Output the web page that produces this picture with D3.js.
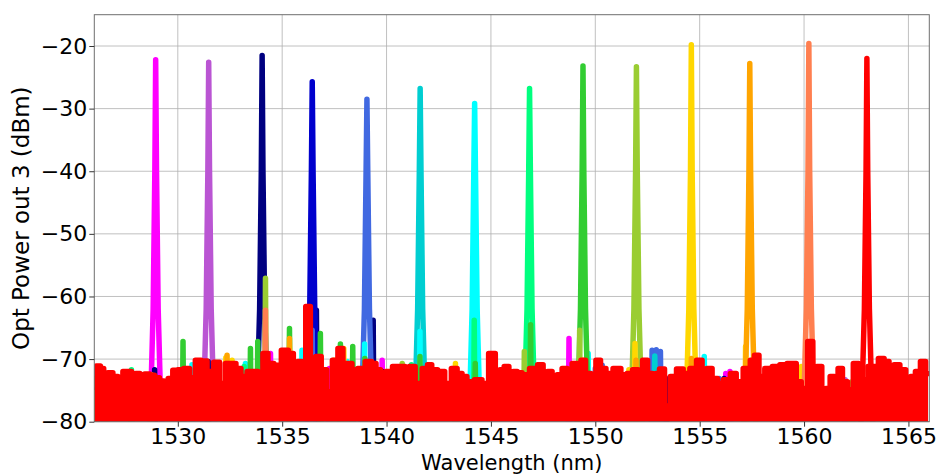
<!DOCTYPE html>
<html><head><meta charset="utf-8">
<script src="https://cdn.jsdelivr.net/npm/d3@7"></script>
<style>body{margin:0;background:#fff}svg{display:block}</style>
</head><body><svg id="c" width="939" height="474"></svg>
<script>
// ---- data ----
const channelNames = ["magenta","mediumorchid","navy","mediumblue","royalblue","darkturquoise","cyan","springgreen","limegreen","yellowgreen","gold","orange","coral","red"];
const channelColors = ["#ff00ff","#ba55d3","#000080","#0000cd","#4169e1","#00ced1","#00ffff","#00ff7f","#32cd32","#9acd32","#ffd700","#ffa500","#ff7f50","#ff0000"];
const channelWavelengths = [1528.94,1531.48,1534.04,1536.44,1539.06,1541.61,1544.22,1546.85,1549.41,1551.97,1554.60,1557.40,1560.23,1563.01];
const channelPeaks = [-22.2,-22.6,-21.5,-25.7,-28.5,-26.8,-29.2,-26.8,-23.2,-23.3,-19.8,-22.8,-19.6,-22.0];
// peak flank shape (offset in nm, level in dBm)
const flankOffsets = [-0.3,-0.25,-0.12,-0.04];
const flankLevels = [-81,-78,-62,-40];
// visible noise spikes / crosstalk of each output (λ nm, dBm)
const spurs = [
  [[1526.5,-72.5],[1534.44,-69.1],[1537.26,-71.5],[1539.79,-70.2],[1548.74,-66.7],[1556.25,-72.3],[1556.45,-72.0]],
  [[1561.97,-73.3]],
  [[1528.89,-71.7],[1531.45,-70.4],[1536.64,-62.2],[1539.36,-63.8],[1539.8,-72.0],[1553.38,-73.1],[1556.17,-73.1]],
  [],
  [[1536.44,-65.4],[1550.0,-71.5],[1550.33,-71.0],[1552.72,-68.6],[1552.92,-68.5],[1553.12,-68.8],[1555.93,-73.1]],
  [[1552.85,-69.5]],
  [[1530.68,-70.9],[1533.24,-70.7],[1535.95,-68.6],[1538.11,-70.4],[1538.95,-67.6],[1541.6,-65.6],[1549.66,-69.1],[1555.22,-69.6],[1555.54,-71.7]],
  [[1527.78,-71.7],[1533.18,-71.2],[1541.19,-70.9],[1544.2,-63.8]],
  [[1530.25,-67.2],[1533.48,-68.3],[1533.83,-67.2],[1535.35,-65.1],[1536.83,-65.9],[1537.79,-67.6],[1538.38,-68.0],[1538.96,-69.9],[1541.6,-69.6],[1544.25,-70.7],[1546.9,-64.5]],
  [[1534.2,-57.1],[1540.75,-70.7],[1546.6,-68.8],[1549.25,-65.4],[1562.3,-73.6]],
  [[1526.0,-73.1],[1526.53,-72.5],[1532.3,-69.8],[1532.6,-70.2],[1537.47,-70.2],[1537.95,-68.3],[1543.3,-70.7],[1546.9,-71.7],[1549.4,-70.2],[1551.61,-71.7],[1551.9,-67.5],[1557.2,-68.0],[1559.87,-71.2],[1565.17,-73.9]],
  [[1528.73,-72.5],[1532.36,-69.4],[1535.35,-66.7],[1551.95,-70.2],[1554.6,-69.9]],
  [[1534.2,-62.2],[1543.3,-71.5]],
  []
];
// noise floor envelope of the red output (λ nm, dBm)
const redFloor = [
[1526.0,-74.5],[1526.21,-71.1],[1526.37,-71.5],[1526.53,-72.4],[1526.77,-72.2],[1527.01,-72.8],[1527.25,-73.9],[1527.49,-72.0],[1527.68,-72.0],[1527.89,-74.0],
[1528.08,-72.3],[1528.29,-72.5],[1528.53,-72.4],[1528.77,-72.6],[1529.0,-73.0],[1529.24,-73.5],[1529.44,-74.1],[1529.64,-73.1],[1529.88,-71.8],[1530.12,-71.7],
[1530.44,-71.5],[1530.68,-73.0],[1531.0,-70.2],[1531.24,-70.3],[1531.56,-72.0],[1531.88,-70.5],[1532.12,-73.9],[1532.44,-70.7],[1532.68,-70.7],[1532.89,-71.5],
[1533.16,-72.8],[1533.48,-72.0],[1533.72,-72.0],[1533.96,-74.4],[1534.2,-69.1],[1534.44,-70.7],[1534.76,-71.0],[1535.16,-68.6],[1535.43,-69.1],[1535.64,-72.3],
[1535.87,-70.4],[1536.03,-71.7],[1536.23,-61.6],[1536.47,-72.0],[1536.75,-69.6],[1536.99,-71.7],[1537.26,-75.2],[1537.55,-70.2],[1537.79,-68.3],[1538.03,-70.7],
[1538.22,-70.7],[1538.46,-71.7],[1538.78,-71.5],[1539.18,-70.4],[1539.39,-70.7],[1539.6,-71.7],[1539.82,-73.3],[1540.11,-72.0],[1540.46,-71.2],[1540.78,-71.2],
[1540.99,-72.3],[1541.19,-71.2],[1541.55,-73.9],[1541.87,-71.5],[1542.06,-70.9],[1542.27,-71.7],[1542.62,-72.0],[1542.95,-73.9],[1543.26,-71.5],[1543.5,-72.3],
[1543.73,-72.8],[1543.97,-73.6],[1544.45,-73.3],[1544.69,-73.9],[1545.09,-69.1],[1545.33,-73.3],[1545.54,-71.7],[1545.73,-71.2],[1545.99,-72.5],[1546.15,-72.0],
[1546.37,-72.2],[1546.61,-72.5],[1547.09,-71.5],[1547.38,-70.9],[1547.62,-73.1],[1547.81,-72.0],[1548.05,-73.1],[1548.29,-72.5],[1548.53,-71.5],[1548.77,-72.3],
[1549.01,-70.7],[1549.22,-72.5],[1549.41,-70.2],[1549.65,-72.3],[1549.93,-74.4],[1550.13,-70.2],[1550.37,-71.5],[1550.65,-72.3],[1551.05,-71.5],[1551.4,-72.5],
[1551.64,-72.3],[1551.93,-71.7],[1552.17,-73.1],[1552.36,-70.2],[1552.65,-72.3],[1552.82,-72.8],[1552.98,-72.3],[1553.17,-71.6],[1553.46,-77.5],[1553.73,-72.8],
[1554.05,-71.6],[1554.37,-72.3],[1554.69,-71.5],[1555.01,-70.2],[1555.22,-73.9],[1555.46,-71.5],[1555.73,-73.1],[1555.97,-73.9],[1556.29,-73.3],[1556.65,-72.3],
[1556.85,-73.6],[1557.32,-71.5],[1557.53,-70.2],[1557.72,-69.4],[1557.96,-72.8],[1558.28,-71.5],[1558.68,-71.2],[1559.0,-70.9],[1559.37,-70.7],[1559.53,-70.7],
[1559.72,-73.6],[1560.01,-74.7],[1560.34,-67.2],[1560.5,-71.7],[1560.73,-71.2],[1560.97,-75.5],[1561.13,-74.7],[1561.37,-72.8],[1561.54,-73.9],[1561.72,-71.5],
[1561.96,-73.6],[1562.2,-74.9],[1562.52,-70.7],[1562.72,-73.3],[1563.4,-71.2],[1563.72,-69.9],[1563.95,-70.4],[1564.19,-72.5],[1564.43,-70.9],[1564.75,-71.7],
[1564.99,-73.3],[1565.23,-72.8],[1565.44,-72.0],[1565.71,-70.4],[1565.94,-72.3]
];
const xTicks = [1530,1535,1540,1545,1550,1555,1560,1565];
const yTicks = [-80,-70,-60,-50,-40,-30,-20];
const xLabel = "Wavelength (nm)";
const yLabel = "Opt Power out 3 (dBm)";

// ---- layout ----
const L = 94.3, R = 929.3, T = 14.7, B = 421.7;
const svg = d3.select("#c");
const x = d3.scaleLinear().domain([1526, 1566]).range([L, R]);
const y = d3.scaleLinear().domain([-80, -15]).range([B, T]);
const FONT = "'DejaVu Sans', sans-serif";
const LW = 5.5;

svg.append("defs").append("clipPath").attr("id","clip")
  .append("rect").attr("x",L).attr("y",T).attr("width",R-L).attr("height",B-T);

// grid
const grid = svg.append("g").attr("stroke","#b0b0b0").attr("stroke-width",0.8);
grid.selectAll("line.vx").data(xTicks).join("line")
  .attr("x1",d=>x(d)).attr("x2",d=>x(d)).attr("y1",T).attr("y2",B);
grid.selectAll("line.hy").data(yTicks).join("line")
  .attr("x1",L).attr("x2",R).attr("y1",d=>y(d)).attr("y2",d=>y(d));

const plot = svg.append("g").attr("clip-path","url(#clip)");
const line = d3.line().x(d=>x(d[0])).y(d=>y(d[1]));

function peakPts(l, p){
  const left = flankOffsets.map((o,i)=>[l+o, flankLevels[i]]);
  const right = flankOffsets.slice().reverse().map((o,i)=>[l-o, flankLevels[flankLevels.length-1-i]]);
  return left.concat([[l,p]], right);
}
function spurPts(s){ return [[s[0]-0.035,-81],[s[0],s[1]],[s[0]+0.035,-81]]; }

const style = sel => sel.attr("fill","none").attr("stroke-width",LW)
  .attr("stroke-linejoin","round").attr("stroke-linecap","round");

channelNames.forEach((name,i)=>{
  const g = plot.append("g").attr("stroke",channelColors[i]);
  if (i === channelNames.length-1){
    // red output: noise floor envelope then its peak
    const area = d3.area().x(d=>x(d[0])).y0(y(-81)).y1(d=>y(d[1])).curve(d3.curveStep);
    g.append("path").datum(redFloor).attr("d",area).attr("fill",channelColors[i]).attr("stroke","none");
    g.append("path").datum(redFloor).attr("d",d3.line().x(d=>x(d[0])).y(d=>y(d[1])).curve(d3.curveStep)).call(style);
  }
  g.selectAll("path.spur").data(spurs[i]).join("path").attr("class","spur")
    .attr("d",d=>line(spurPts(d))).call(style);
  g.append("path").datum(peakPts(channelWavelengths[i], channelPeaks[i]))
    .attr("d",line).call(style);
});

// frame
svg.append("rect").attr("x",L).attr("y",T).attr("width",R-L).attr("height",B-T)
  .attr("fill","none").attr("stroke","#6e6e6e").attr("stroke-width",1);

// axes
const xa = svg.append("g").attr("transform",`translate(0,${B})`)
  .call(d3.axisBottom(x).tickValues(xTicks).tickSize(5).tickPadding(2).tickFormat(d3.format("d")));
const ya = svg.append("g").attr("transform",`translate(${L},0)`)
  .call(d3.axisLeft(y).tickValues(yTicks).tickSize(5).tickPadding(2).tickFormat(d3.format("d")));
[xa,ya].forEach(a=>{
  a.select(".domain").remove();
  a.selectAll(".tick line").attr("stroke","#333").attr("stroke-width",1);
  a.selectAll("text").attr("font-family",FONT).attr("font-size",22).attr("fill","#000");
});

svg.append("text").attr("x",(L+R)/2).attr("y",470).attr("text-anchor","middle")
  .attr("font-family",FONT).attr("font-size",21).attr("fill","#000").text(xLabel);
svg.append("text").attr("transform",`translate(29,${(T+B)/2}) rotate(-90)`).attr("text-anchor","middle")
  .attr("font-family",FONT).attr("font-size",23).attr("fill","#000").text(yLabel);
</script>
</body></html>
